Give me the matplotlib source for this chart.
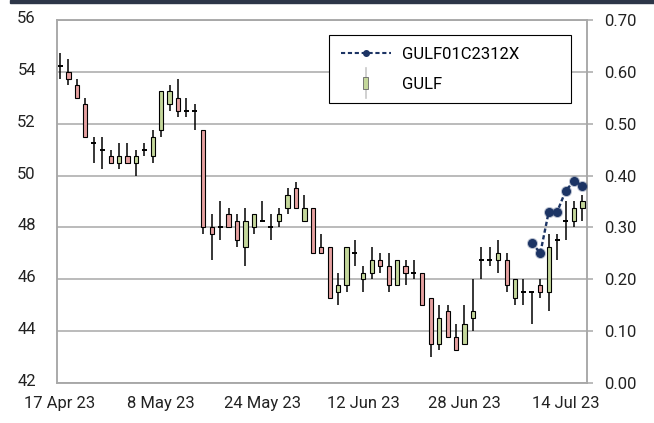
import numpy as np
import matplotlib
matplotlib.use("Agg")
import matplotlib.pyplot as plt
import matplotlib.transforms as mtransforms
from matplotlib.patches import Rectangle
from matplotlib.lines import Line2D
from matplotlib.legend_handler import HandlerBase

plt.rcParams['font.family'] = ['Roboto', 'DejaVu Sans']

# daily GULF candles, 17 Apr 23 .. mid Jul 23
OPEN = [54.25, 54.0, 53.5, 52.75, 51.25, 51.0, 50.75, 50.5, 50.75, 50.5,
        51.0, 50.75, 51.75, 52.75, 53.0, 52.5, 52.5, 51.75, 48.0, 48.0,
        48.5, 48.25, 47.25, 48.0, 48.25, 48.0, 48.25, 48.75, 49.5, 48.25,
        48.75, 47.25, 47.25, 45.5, 45.75, 47.0, 46.0, 46.25, 46.75, 46.5,
        45.75, 46.5, 46.25, 46.25, 45.25, 43.5, 44.75, 43.75, 43.5, 44.5,
        46.75, 46.75, 46.75, 46.75, 45.25, 45.5, 45.5, 45.75, 45.5, 47.5,
        48.25, 48.25, 48.75]
HIGH = [54.75, 54.5, 53.75, 53.0, 51.5, 51.5, 51.0, 51.25, 51.25, 51.0,
        51.25, 51.75, 53.25, 53.5, 53.75, 53.0, 52.75, 51.75, 48.5, 49.0,
        48.75, 48.5, 48.75, 48.5, 49.0, 48.5, 48.75, 49.5, 49.75, 49.25,
        48.75, 47.75, 47.25, 46.25, 47.25, 47.5, 46.5, 47.25, 47.0, 47.0,
        46.75, 46.75, 46.75, 46.25, 45.25, 45.0, 45.0, 44.25, 45.0, 46.0,
        47.25, 47.25, 47.5, 47.0, 46.0, 46.0, 45.5, 46.0, 47.75, 47.75,
        49.0, 49.0, 49.25]
LOW = [53.75, 53.5, 53.0, 51.5, 50.5, 50.25, 50.5, 50.25, 50.5, 50.0,
       50.75, 50.5, 51.5, 52.5, 52.25, 52.25, 51.75, 47.75, 46.75, 47.5,
       48.0, 47.25, 46.5, 47.75, 48.25, 47.5, 48.0, 48.5, 48.75, 48.25,
       47.0, 47.0, 45.25, 45.0, 45.5, 46.5, 45.5, 46.0, 46.25, 45.5,
       45.75, 45.75, 46.0, 45.0, 43.0, 43.25, 43.75, 43.25, 43.5, 44.0,
       46.0, 46.5, 46.25, 45.5, 45.0, 45.0, 44.25, 45.25, 44.75, 46.75,
       47.5, 48.0, 48.25]
CLOSE = [54.25, 53.75, 53.0, 51.5, 51.25, 51.0, 50.5, 50.75, 50.5, 50.75,
         51.0, 51.5, 53.25, 53.25, 52.5, 52.5, 52.5, 48.0, 47.75, 48.0,
         48.0, 47.5, 48.25, 48.5, 48.25, 48.0, 48.5, 49.25, 48.75, 48.75,
         47.0, 47.0, 45.25, 45.75, 47.25, 47.0, 46.25, 46.75, 46.5, 45.75,
         46.75, 46.25, 46.25, 45.0, 43.5, 44.5, 43.75, 43.25, 44.25, 44.75,
         46.75, 46.75, 47.0, 45.75, 46.0, 45.5, 45.5, 45.5, 47.25, 47.5,
         48.25, 48.75, 49.0]

# warrant GULF01C2312X, last seven sessions (right axis)
DW_IDX = [56, 57, 58, 59, 60, 61, 62]
DW = [0.27, 0.25, 0.33, 0.33, 0.37, 0.39, 0.38]

DATE_LABELS = ['17 Apr 23', '8 May 23', '24 May 23', '12 Jun 23', '28 Jun 23', '14 Jul 23']
LABEL_STEP = 12

RED = '#e6a0a0'
GREEN = '#c4d79b'
NAVY = '#1c3464'
GRID = '#a8a8a8'
TXT = '#222222'


class CandleHandler(HandlerBase):
    def create_artists(self, legend, orig_handle, xdescent, ydescent,
                       width, height, fontsize, trans):
        cx = width / 2 - xdescent
        wick = Line2D([cx, cx], [-0.8 * height, 1.8 * height], color='#c8c8c8',
                      lw=1.2, transform=trans)
        body = Rectangle((cx - 1.8, -0.05 * height), 3.6, 1.1 * height,
                         facecolor=GREEN, edgecolor='#666666', lw=0.6, transform=trans)
        return [wick, body]


o = np.array(OPEN)
h = np.array(HIGH)
l = np.array(LOW)
c = np.array(CLOSE)
x = np.arange(len(o))
up = c > o
dn = c < o
flat = c == o

fig = plt.figure(figsize=(6.54, 4.23), dpi=100)
fig.patches.append(Rectangle((10 / 654, 1 - 3.5 / 423), 1, 3.5 / 423, transform=fig.transFigure,
                             color='#2d3648', zorder=0))
ax = fig.add_axes([0.0867, 0.0957, 0.8116, 0.8563])

ax.vlines(x, l, h, color='black', lw=1.1, zorder=2)
ax.bar(x[up], (c - o)[up], 0.5, bottom=o[up], color=GREEN, edgecolor='black', lw=0.8, zorder=3)
ax.bar(x[dn], (o - c)[dn], 0.5, bottom=c[dn], color=RED, edgecolor='black', lw=0.8, zorder=3)
ax.hlines(o[flat], x[flat] - 0.3, x[flat] + 0.3, color='black', lw=1.4, zorder=3)

ax.set_xlim(-0.4, 62.6)
ax.set_ylim(42, 56)
ax.set_yticks(np.arange(42, 57, 2))
ax.set_xticks(np.arange(0, len(o), LABEL_STEP))
ax.set_xticklabels(DATE_LABELS)
ax.grid(axis='y', color=GRID, lw=1.1)
ax.set_axisbelow(True)
ax.tick_params(axis='y', length=0, pad=15, labelsize=12, labelcolor=TXT)
ax.tick_params(axis='x', length=0, pad=10, labelsize=12, labelcolor=TXT)
for sp in ax.spines.values():
    sp.set_color(GRID)
    sp.set_linewidth(1.1)
# left labels sit a little above their gridlines
shift = mtransforms.ScaledTranslation(0, 3 / 100, fig.dpi_scale_trans)
for lab in ax.get_yticklabels():
    lab.set_transform(lab.get_transform() + shift)

ax2 = ax.twinx()
ax2.plot(DW_IDX, DW, ls='none', marker='o', ms=8, color=NAVY, alpha=0.3, mec='none', zorder=3)
ax2.plot(DW_IDX, DW, color=NAVY, lw=1.7, ls=(0, (1.8, 1.1)), marker='o', ms=5.5,
         mec=NAVY, zorder=4)
ax2.set_ylim(0, 0.7)
ax2.set_yticks(np.arange(0, 0.71, 0.1))
ax2.set_yticklabels(['%.2f' % v for v in np.arange(0, 0.71, 0.1)])
ax2.tick_params(axis='y', length=4.3, width=1.1, color=GRID, pad=7.5, labelsize=12, labelcolor=TXT)
for sp in ax2.spines.values():
    sp.set_color(GRID)
    sp.set_linewidth(1.1)

h1 = Line2D([], [], color=NAVY, lw=1.5, ls=(0, (2, 1.3)), marker='o', ms=4)
h2 = Rectangle((0, 0), 1, 1)
leg = ax2.legend([h1, h2], ['GULF01C2312X', 'GULF'], loc='upper left',
                 bbox_to_anchor=(0.513, 0.758, 0.4556, 0.201), mode='expand',
                 borderaxespad=0, fontsize=12, handlelength=3.0, handletextpad=0.7,
                 labelspacing=0.9, borderpad=0.7, fancybox=False, framealpha=1,
                 handler_map={Rectangle: CandleHandler()})
leg.get_frame().set_edgecolor('black')
leg.get_frame().set_linewidth(0.8)

fig.savefig('out.png', dpi=100)
